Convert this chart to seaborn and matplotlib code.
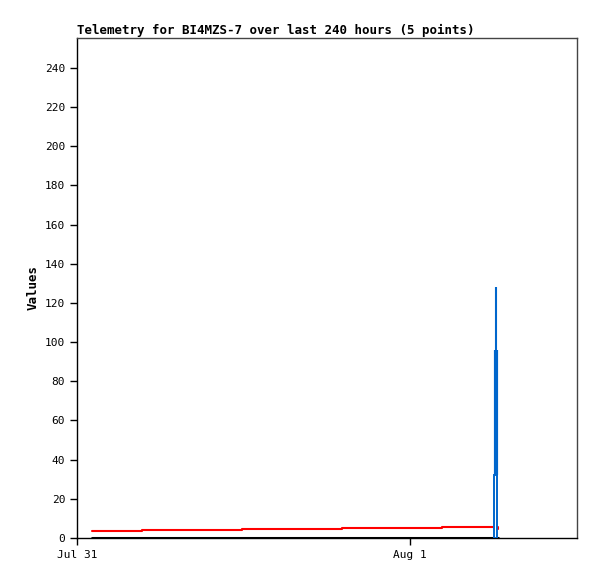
import pandas as pd
import numpy as np
import matplotlib
matplotlib.use('Agg')
import matplotlib.pyplot as plt
import matplotlib.dates as mdates
import seaborn as sns

sns.set_style('white')
plt.rcParams['font.family'] = ['DejaVu Sans Mono']
plt.rcParams['text.color'] = 'black'
plt.rcParams['axes.labelcolor'] = 'black'

# 数据
start = pd.Timestamp('2024-07-31 00:00')
red_hours = [1.08, 4.68, 11.89, 19.1, 26.3, 30.1, 30.3]
red_vals = [3.8, 4.3, 4.8, 5.3, 5.8, 5.8, 4.6]
zero_hours = [1.08, 30.3]
zero_vals = [0, 0]
blue_hour = 30.16
blue_low = [0, 32]      # 空心框
blue_mid = [32, 96]     # 实心粗线
blue_high = [96, 128]   # 细线

red_t = [start + pd.Timedelta(hours=h) for h in red_hours]
zero_t = [start + pd.Timedelta(hours=h) for h in zero_hours]
blue_t = start + pd.Timedelta(hours=blue_hour)

fig = plt.figure(figsize=(5.97, 5.79), dpi=100)
ax = fig.add_axes([77/597, 41/579, 500/597, 500/579])

df_red = pd.DataFrame({'t': red_t, 'v': red_vals})
df_zero = pd.DataFrame({'t': zero_t, 'v': zero_vals})
sns.lineplot(data=df_zero, x='t', y='v', color='black', lw=2.2, ax=ax)
sns.lineplot(data=df_red, x='t', y='v', color='#ff0000', lw=1.5, drawstyle='steps-post', ax=ax)

bx = mdates.date2num(blue_t)
w = 3.2 / 333
ax.bar(bx, blue_low[1] - blue_low[0], bottom=blue_low[0], width=w,
       facecolor='white', edgecolor='#0066cc', linewidth=1.4, zorder=3)
ax.vlines(bx, blue_mid[0], blue_mid[1], color='#0066cc', lw=3.0, zorder=3)
ax.vlines(bx, blue_high[0], blue_high[1], color='#0066cc', lw=1.5, zorder=3)

ax.set_ylim(0, 255.3)
x0 = mdates.date2num(start)
ax.set_xlim(x0, x0 + 1.5)
ax.set_yticks(range(0, 241, 20))
ax.xaxis.set_major_locator(mdates.DayLocator())
ax.xaxis.set_major_formatter(mdates.DateFormatter('%b %-d'))
ax.tick_params(axis='both', direction='out', length=5, width=1, labelsize=8,
               bottom=True, left=True, colors='black')
ax.set_xlabel('')
ax.set_ylabel('Values', fontsize=9, fontweight='bold')
ax.set_title('Telemetry for BI4MZS-7 over last 240 hours (5 points)',
             fontsize=9, fontweight='bold', loc='left', pad=3)
for s in ['left', 'bottom']:
    ax.spines[s].set_color('black')
    ax.spines[s].set_linewidth(1)
for s in ['top', 'right']:
    ax.spines[s].set_color('#444444')
    ax.spines[s].set_linewidth(1)
ax.grid(False)

fig.savefig('out.png', dpi=100)
